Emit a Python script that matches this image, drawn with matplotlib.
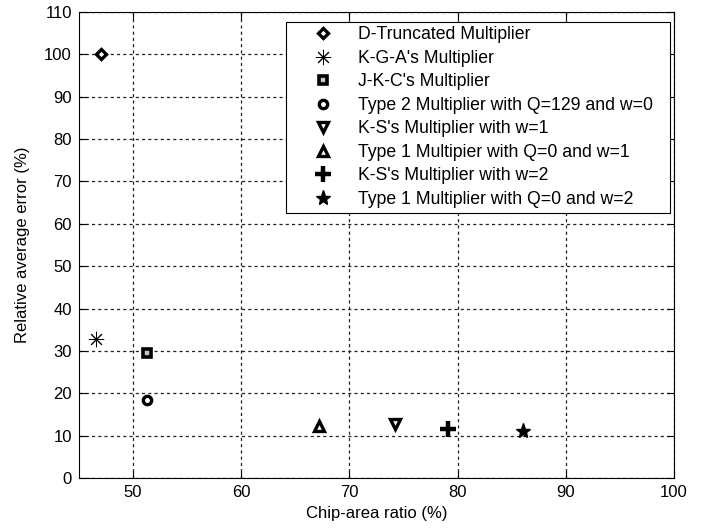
import matplotlib
matplotlib.use("Agg")
import matplotlib.pyplot as plt

plt.rcParams['font.family'] = ['Liberation Sans', 'DejaVu Sans']

labels = ["D-Truncated Multiplier",
          "K-G-A's Multiplier",
          "J-K-C's Multiplier",
          "Type 2 Multiplier with Q=129 and w=0",
          "K-S's Multiplier with w=1",
          "Type 1 Multipier with Q=0 and w=1",
          "K-S's Multiplier with w=2",
          "Type 1 Multiplier with Q=0 and w=2"]
area = [47.0, 46.6, 51.3, 51.3, 74.2, 67.2, 79.1, 86.0]
error = [100.0, 32.9, 29.6, 18.5, 12.8, 12.2, 11.5, 11.2]

fig = plt.figure(figsize=(7.11, 5.29), dpi=100)
ax = fig.add_axes([0.111, 0.0964, 0.837, 0.881])

styles = [
    dict(marker='D', ms=5.5, mfc='white', mec='k', mew=2.4),
    dict(marker=(8, 2, 0), ms=11, color='k', mew=0.7),
    dict(marker='s', ms=6, mfc='#c8c8c8', mec='k', mew=2.6),
    dict(marker='o', ms=6, mfc='white', mec='k', mew=2.4),
    dict(marker='v', ms=7, mfc='white', mec='k', mew=2.4),
    dict(marker='^', ms=7, mfc='white', mec='k', mew=2.4),
    dict(marker='+', ms=11, color='k', mew=3.2),
    dict(marker='*', ms=11, color='k', mec='k'),
]

for x, y, lab, st in zip(area, error, labels, styles):
    ax.plot(x, y, linestyle='none', label=lab, **st)

ax.set_xlim(45, 100)
ax.set_ylim(0, 110)
ax.set_xticks(range(50, 101, 10))
ax.set_yticks(range(0, 111, 10))
ax.grid(True, color='#222222', linestyle=(0, (2.5, 2.5)), linewidth=0.9)
ax.tick_params(direction='in', top=True, right=True, labelsize=12, length=5, pad=5)
for sp in ax.spines.values():
    sp.set_color('k')
    sp.set_linewidth(0.8)
ax.set_xlabel('Chip-area ratio (%)', fontsize=12, labelpad=4)
ax.set_ylabel('Relative average error (%)', fontsize=12, labelpad=10)

leg = ax.legend(loc='upper right', bbox_to_anchor=(0.348, 0.0, 0.645, 0.979),
                mode='expand', fontsize=12.7, frameon=True, fancybox=False,
                edgecolor='k', framealpha=1, borderaxespad=0,
                handlelength=3.7, handletextpad=0.1, labelspacing=0.37, borderpad=0.26)
leg.get_frame().set_linewidth(0.8)

fig.savefig('out.png', dpi=100)
